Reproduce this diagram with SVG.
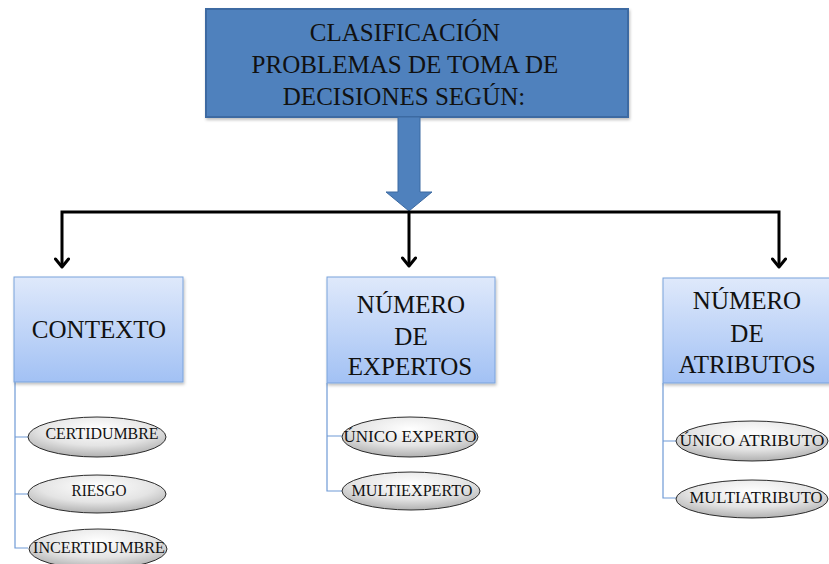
<svg xmlns="http://www.w3.org/2000/svg" width="829" height="564" viewBox="0 0 829 564">
<defs>
<linearGradient id="boxg" x1="0" y1="0" x2="0" y2="1">
<stop offset="0" stop-color="#dfe9fb"/>
<stop offset="1" stop-color="#a2c1f4"/>
</linearGradient>
<radialGradient id="ellg" cx="0.5" cy="0.3" r="0.75">
<stop offset="0" stop-color="#ffffff"/>
<stop offset="0.55" stop-color="#e4e4e4"/>
<stop offset="1" stop-color="#a8a8a8"/>
</radialGradient>
<filter id="sh" x="-10%" y="-10%" width="130%" height="130%">
<feDropShadow dx="1" dy="2" stdDeviation="1.5" flood-color="#000" flood-opacity="0.25"/>
</filter>
<marker id="chev" viewBox="0 0 16 16" refX="13" refY="8" markerWidth="16" markerHeight="16" markerUnits="userSpaceOnUse" orient="auto-start-reverse">
<path d="M5,1.5 L13,8 L5,14.5" fill="none" stroke="#000" stroke-width="3" stroke-linecap="round" stroke-linejoin="round"/>
</marker>
</defs>
<style>
.t{font-family:"Liberation Serif","Times New Roman",serif;fill:#111;text-anchor:middle}
.big{font-size:25px}
.sm{font-size:16px}
.box{fill:url(#boxg);stroke:#7aa3dc;stroke-width:1}
.ell{fill:url(#ellg);stroke:#2b2b2b;stroke-width:1}
.tree{fill:none;stroke:#6f9ad6;stroke-width:1.2}
.conn{fill:none;stroke:#000;stroke-width:3}
</style>
<rect width="829" height="564" fill="#fff"/>

<g id="title">
<rect x="206" y="9" width="422" height="108" fill="#4f81bd" stroke="#3c6aa2" stroke-width="2" filter="url(#sh)"/>
<text class="t big" x="405" y="41">CLASIFICACIÓN</text>
<text class="t big" x="405" y="73">PROBLEMAS DE TOMA DE</text>
<text class="t big" x="404" y="105">DECISIONES  SEGÚN:</text>
</g>

<g id="connectors">
<path d="M398,117 L420,117 L420,192 L432,192 L409,211 L386,192 L398,192 Z" fill="#4f81bd" stroke="#3c6aa2" stroke-width="1"/>
<path class="conn" d="M62,267 L62,212 L779,212 L779,267" marker-start="url(#chev)" marker-end="url(#chev)"/>
<path class="conn" d="M409,212 L409,266" marker-end="url(#chev)"/>
<path class="tree" d="M15,382 L15,548 L28,548 M15,437 L28,437 M15,494 L28,494"/>
<path class="tree" d="M327,383 L327,491 L342,491 M327,436 L342,436"/>
<path class="tree" d="M663,383 L663,498 L676,498 M663,441 L676,441"/>
</g>

<g id="contexto">
<rect class="box" x="14" y="277" width="169" height="105" filter="url(#sh)"/>
<text class="t big" x="99" y="338">CONTEXTO</text>
</g>
<g id="expertos">
<rect class="box" x="327" y="277" width="168" height="106" filter="url(#sh)"/>
<text class="t big" x="411" y="313">NÚMERO</text>
<text class="t big" x="411" y="345">DE</text>
<text class="t big" x="410" y="375">EXPERTOS</text>
</g>
<g id="atributos">
<rect class="box" x="663" y="278" width="170" height="105" filter="url(#sh)"/>
<text class="t big" x="747" y="309">NÚMERO</text>
<text class="t big" x="747" y="342">DE</text>
<text class="t big" x="747" y="373">ATRIBUTOS</text>
</g>

<g id="certidumbre">
<ellipse class="ell" cx="97" cy="437" rx="69" ry="20"/>
<text class="t sm" x="102" y="439" textLength="113" lengthAdjust="spacingAndGlyphs">CERTIDUMBRE</text>
</g>
<g id="riesgo">
<ellipse class="ell" cx="97" cy="494" rx="69" ry="19"/>
<text class="t sm" x="99" y="496" textLength="55" lengthAdjust="spacingAndGlyphs">RIESGO</text>
</g>
<g id="incertidumbre">
<ellipse class="ell" cx="98" cy="549" rx="69" ry="20"/>
<text class="t sm" x="99" y="553" textLength="132" lengthAdjust="spacingAndGlyphs">INCERTIDUMBRE</text>
</g>
<g id="unico-experto">
<ellipse class="ell" cx="410" cy="437" rx="68" ry="20"/>
<text class="t sm" x="410" y="442" textLength="133" lengthAdjust="spacingAndGlyphs">ÚNICO EXPERTO</text>
</g>
<g id="multiexperto">
<ellipse class="ell" cx="411" cy="491" rx="69" ry="19"/>
<text class="t sm" x="412" y="496" textLength="121" lengthAdjust="spacingAndGlyphs">MULTIEXPERTO</text>
</g>
<g id="unico-atributo">
<ellipse class="ell" cx="752" cy="441" rx="76" ry="20"/>
<text class="t sm" x="752" y="446" textLength="145" lengthAdjust="spacingAndGlyphs">ÚNICO ATRIBUTO</text>
</g>
<g id="multiatributo">
<ellipse class="ell" cx="752" cy="499" rx="76" ry="19"/>
<text class="t sm" x="756" y="503" textLength="133" lengthAdjust="spacingAndGlyphs">MULTIATRIBUTO</text>
</g>
</svg>
